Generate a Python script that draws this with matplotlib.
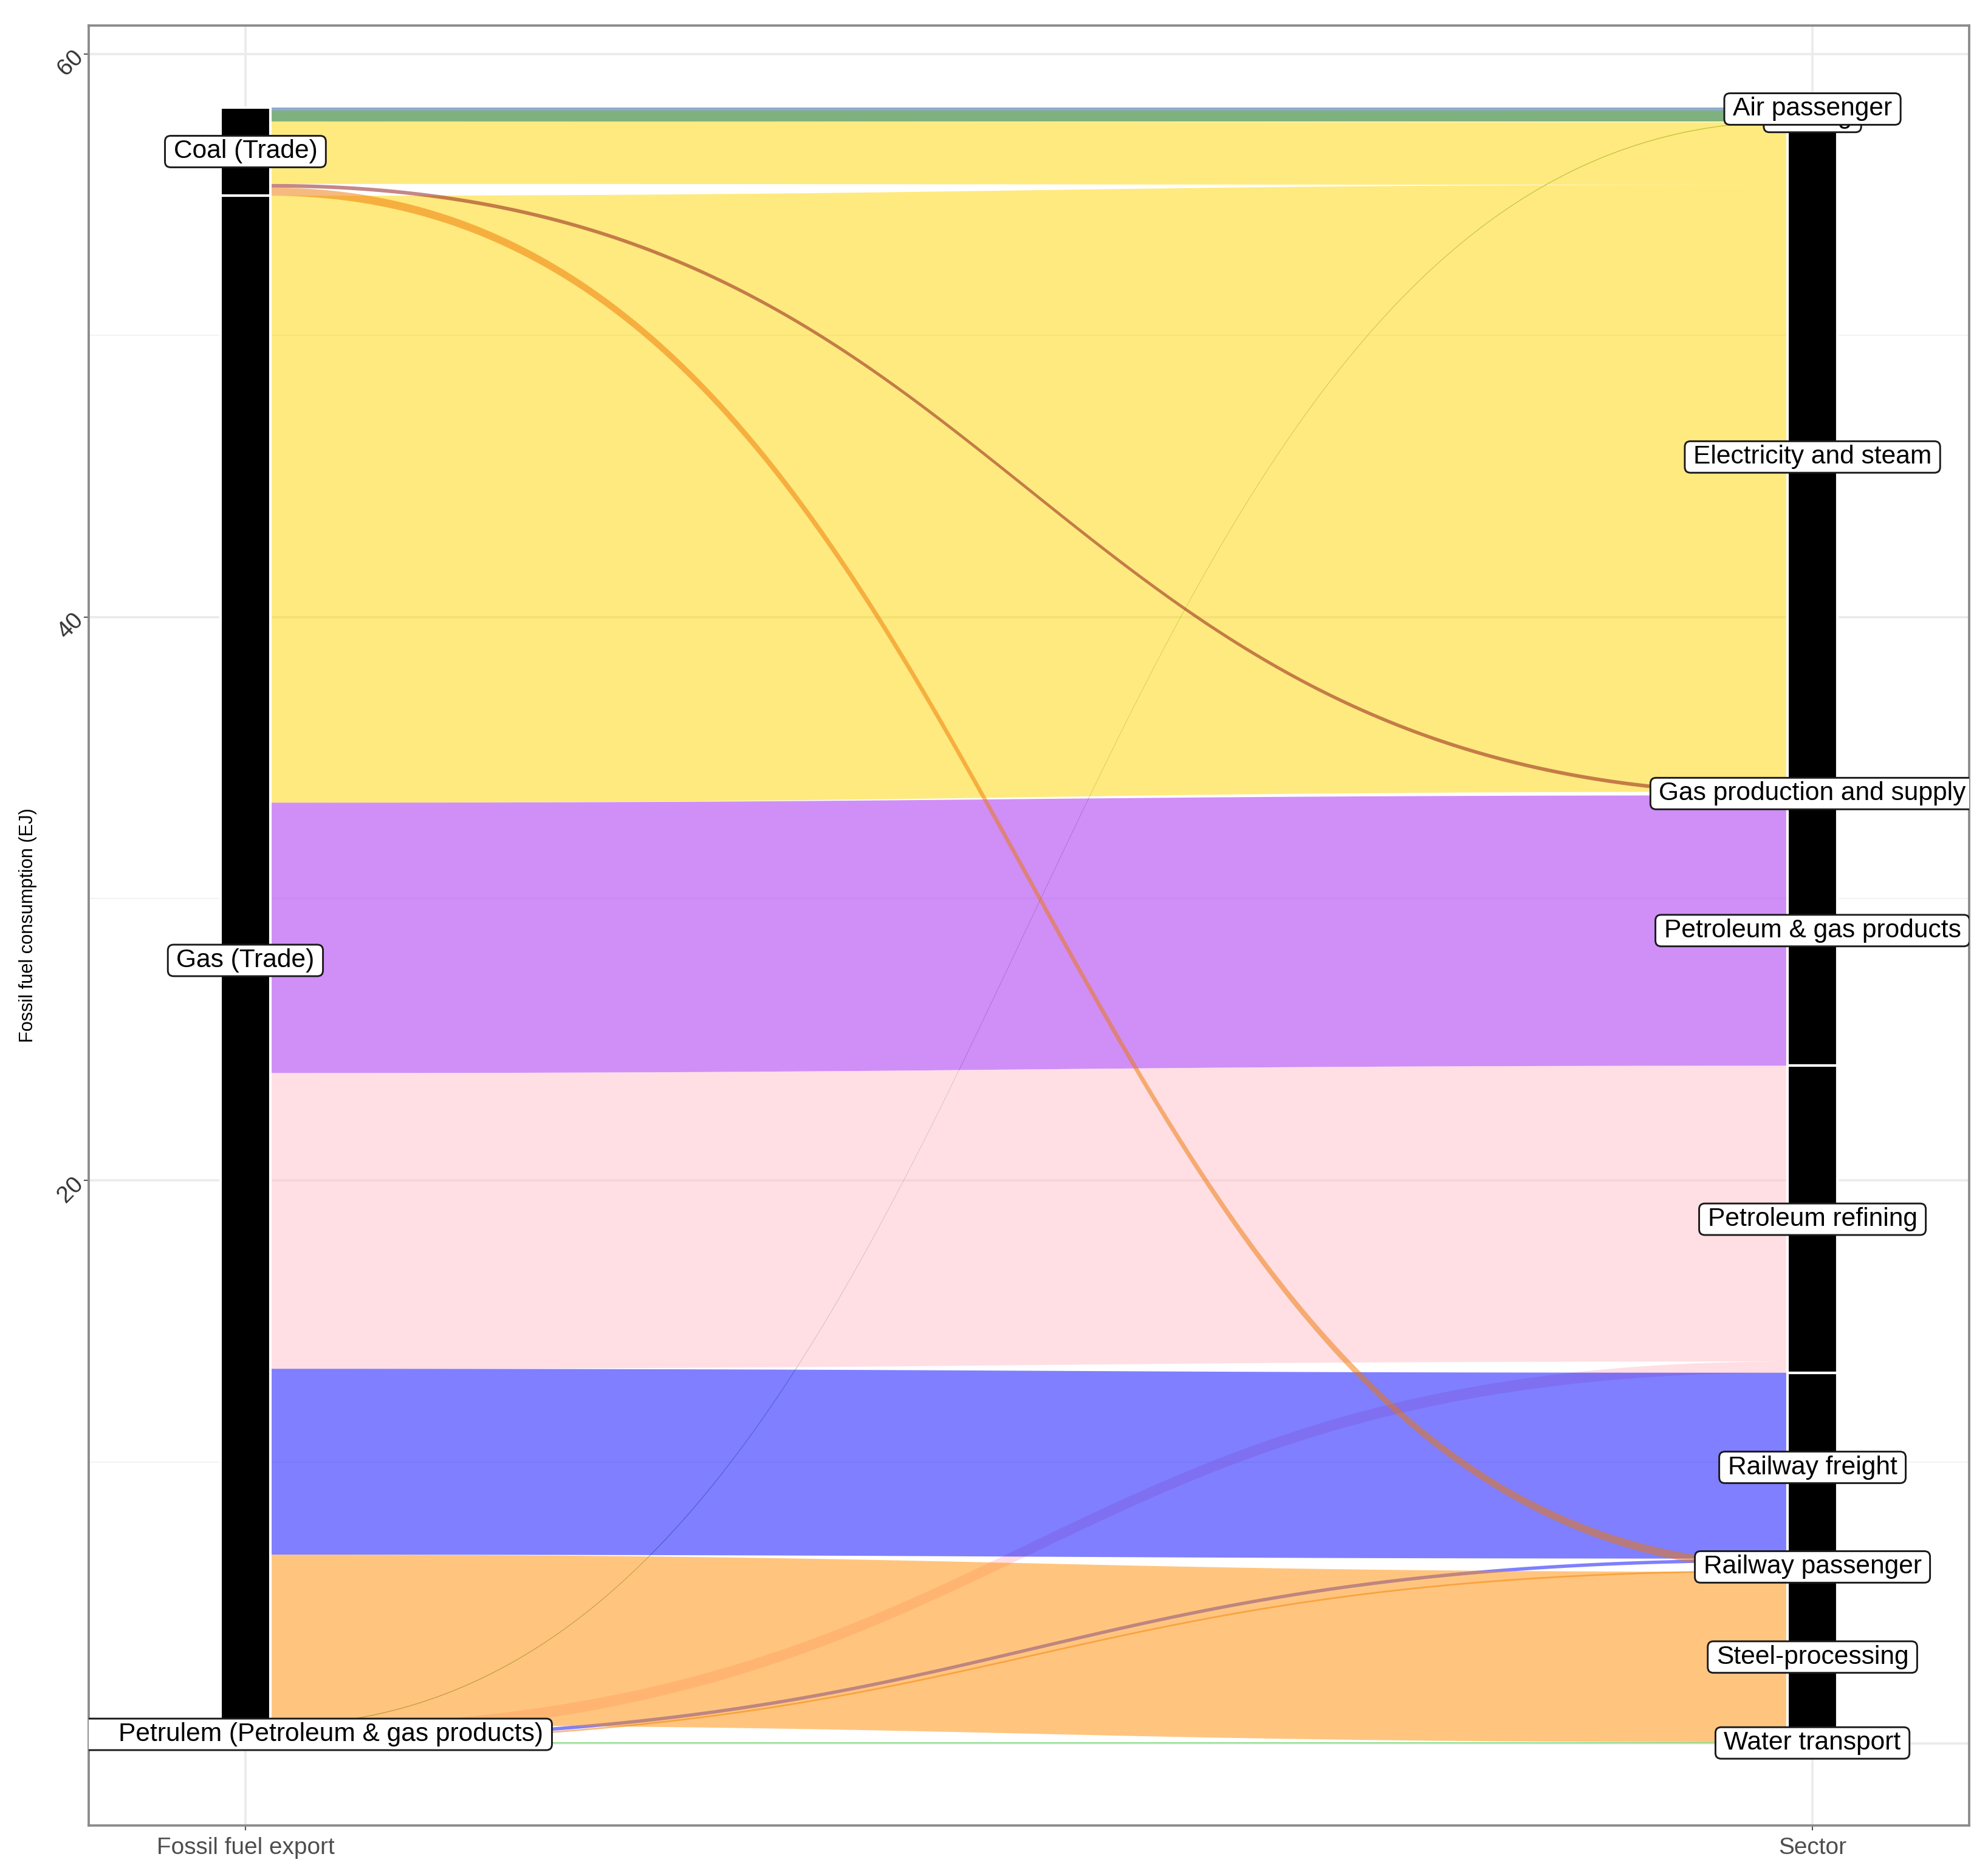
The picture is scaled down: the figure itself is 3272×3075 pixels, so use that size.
import matplotlib
matplotlib.use("Agg")
import matplotlib.pyplot as plt
import numpy as np
from matplotlib.patches import Polygon, Rectangle, FancyBboxPatch
from matplotlib.transforms import IdentityTransform

plt.rcParams['font.family'] = ['Liberation Sans', 'DejaVu Sans']

# ---------------- data ----------------
axis_titles = ["Fossil fuel export", "Sector"]
sources = ["Coal (Trade)", "Gas (Trade)", "Petrulem (Petroleum & gas products)"]
sectors = ["Air passenger", "Coking", "Electricity and steam",
           "Gas production and supply", "Petroleum & gas products",
           "Petroleum refining", "Railway freight", "Railway passenger",
           "Steel-processing", "Water transport"]
sector_colors = ["#1F5A9A", "#006400", "#FFD700", "#8B1010", "#A020F0",
                 "#FFC0CB", "#0000FF", "#EE7600", "#FF8C00", "#32CD32"]

flow_source = ["Coal (Trade)"] * 5 + ["Gas (Trade)"] * 5 + \
              ["Petrulem (Petroleum & gas products)"] * 5
flow_sector = ["Air passenger", "Coking", "Electricity and steam",
               "Gas production and supply", "Railway passenger",
               "Electricity and steam", "Petroleum & gas products",
               "Petroleum refining", "Railway freight", "Steel-processing",
               "Coking", "Petroleum refining", "Railway freight",
               "Railway passenger", "Water transport"]
flow_value = [0.12, 0.38, 2.22, 0.13, 0.29,
              21.55, 9.60, 10.50, 6.60, 6.05,
              0.03, 0.40, 0.12, 0.06, 0.05]

y_ticks = [20, 40, 60]
y_grid_major = [0, 20, 40, 60]
y_grid_minor = [10, 30, 50]
y_title = "Fossil fuel consumption (EJ)"

# ---------------- figure ----------------
W, H, DPI = 3272, 3075, 300
fig = plt.figure(figsize=(W / DPI, H / DPI), dpi=DPI)
ax = fig.add_axes([146 / W, 1 - 3005 / H, (3241 - 146) / W, (3005 - 42) / H])

total = float(sum(flow_value))
ax.set_xlim(0.9, 2.1)
ax.set_ylim(-0.05 * total, 1.05 * total)

bar_w = 0.032
alpha = 0.5

# stacking on each axis
n = len(flow_value)
src_idx = [sources.index(s) for s in flow_source]
sec_idx = [sectors.index(s) for s in flow_sector]
left_pos = {}
y = total
for si in range(len(sources)):
    for j in sorted([k for k in range(n) if src_idx[k] == si], key=lambda k: sec_idx[k]):
        left_pos[j] = (y - flow_value[j], y)
        y -= flow_value[j]
right_pos = {}
y = total
for ci in range(len(sectors)):
    for j in sorted([k for k in range(n) if sec_idx[k] == ci], key=lambda k: src_idx[k]):
        right_pos[j] = (y - flow_value[j], y)
        y -= flow_value[j]

# curve shape (cubic bezier, flat tangents)
s = np.linspace(0, 1, 300)
kk = 0.5
xs = 3 * kk * s * (1 - s) ** 2 + 3 * (1 - kk) * s ** 2 * (1 - s) + s ** 3
ys = 3 * s ** 2 * (1 - s) + s ** 3
xL, xR = 1 + bar_w / 2, 2 - bar_w / 2
xx = xL + (xR - xL) * xs

# draw order: bottom source first
order = sorted(range(n), key=lambda k: -src_idx[k])
for j in order:
    l0, l1 = left_pos[j]
    r0, r1 = right_pos[j]
    top = l1 + (r1 - l1) * ys
    bot = l0 + (r0 - l0) * ys
    verts = np.vstack([np.column_stack([xx, top]), np.column_stack([xx[::-1], bot[::-1]])])
    ax.add_patch(Polygon(verts, closed=True, facecolor=sector_colors[sec_idx[j]],
                         edgecolor='none', alpha=alpha, zorder=2))

# strata
src_tot = [sum(v for v, si in zip(flow_value, src_idx) if si == i) for i in range(len(sources))]
sec_tot = [sum(v for v, ci in zip(flow_value, sec_idx) if ci == i) for i in range(len(sectors))]
left_labels, right_labels = [], []
y = total
for i, t in enumerate(src_tot):
    ax.add_patch(Rectangle((1 - bar_w / 2, y - t), bar_w, t, facecolor='black',
                           edgecolor='white', lw=1.0, zorder=3))
    left_labels.append((1, y - t / 2, sources[i]))
    y -= t
y = total
for i, t in enumerate(sec_tot):
    ax.add_patch(Rectangle((2 - bar_w / 2, y - t), bar_w, t, facecolor='black',
                           edgecolor='white', lw=1.0, zorder=3))
    right_labels.append((2, y - t / 2, sectors[i]))
    y -= t

# labels
fs = 10.2
em = fs * DPI / 72.0
labels = []
for (x, yv, txt) in left_labels:
    if txt.startswith("Petrulem"):
        txt = " " * 24 + txt
    labels.append((x, yv, txt))
for (x, yv, txt) in right_labels[::-1]:
    labels.append((x, yv, txt))

texts = []
for i, (x, yv, txt) in enumerate(labels):
    t = ax.text(x, yv, txt, ha='center', va='center', fontsize=fs, color='black',
                zorder=11 + 2 * i, clip_on=True)
    texts.append(t)

fig.canvas.draw()
r = fig.canvas.get_renderer()
for i, t in enumerate(texts):
    bb = t.get_window_extent(r)
    x, yv, txt = labels[i]
    cx, cy = ax.transData.transform((x, yv))
    w = bb.width + 0.66 * em
    h = 1.22 * em
    p = FancyBboxPatch((cx - w / 2, cy - h / 2), w, h,
                       boxstyle="round,pad=0,rounding_size=%f" % (0.22 * em),
                       facecolor='white', edgecolor='#1A1A1A', lw=0.7,
                       transform=IdentityTransform(), zorder=10 + 2 * i)
    ax.add_patch(p)
    p.set_clip_path(ax.patch)

# grid
for v in y_grid_major:
    ax.axhline(v, color='#EBEBEB', lw=0.9, zorder=0)
for v in y_grid_minor:
    ax.axhline(v, color='#F3F3F3', lw=0.5, zorder=0)
for v in [1, 2]:
    ax.axvline(v, color='#EBEBEB', lw=0.9, zorder=0)

# axes styling
ax.set_xticks([1, 2])
ax.set_xticklabels(axis_titles, fontsize=9.3, color='#4D4D4D')
ax.set_yticks(y_ticks)
ax.set_yticklabels([str(v) for v in y_ticks], rotation=45, ha='right', va='center',
                   rotation_mode='anchor', fontsize=9.3, color='#333333')
ax.tick_params(axis='x', length=2, width=0.5, color='#555555', pad=2.5)
ax.tick_params(axis='y', length=2, width=0.5, color='#555555', pad=1.5)
for sp in ax.spines.values():
    sp.set_color('#8A8A8A')
    sp.set_linewidth(0.9)
fig.text(46 / W, 1 - 1523 / H, y_title, rotation=90, ha='center', va='center',
         fontsize=7.4, color='black')

fig.savefig("out.png", dpi=DPI, facecolor='white')
